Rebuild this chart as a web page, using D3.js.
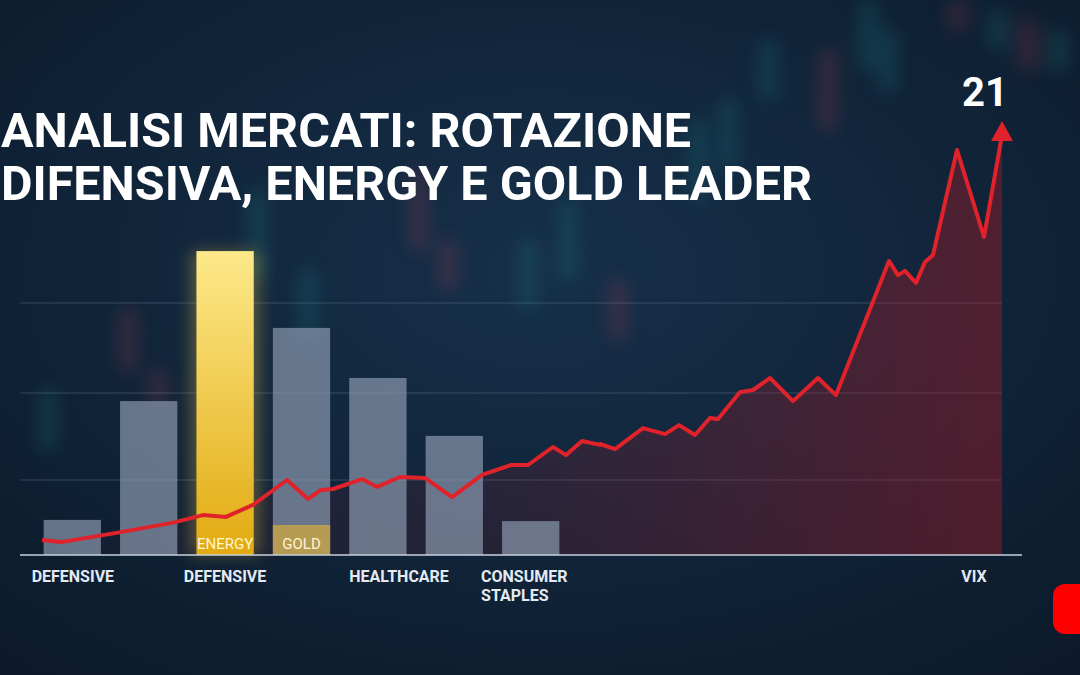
<!DOCTYPE html>
<html><head><meta charset="utf-8">
<script src="https://cdn.jsdelivr.net/npm/d3@7"></script>
<style>
body{margin:0;background:#0e1e31;overflow:hidden}
svg{display:block}
text{font-family:Roboto,"Open Sans",sans-serif}
</style></head>
<body><svg id="chart" width="1080" height="675"></svg>
<script>
// sector bars (value units on the shared y scale)
const barValues = [11.7, 51.3, 101.3, 75.7, 59, 39.7, 11.3];
const barHighlight = [false, false, true, false, false, false, false];
const goldValue = 10;          // small gold segment in bar 4
const gridValues = [25, 54, 84];
const axisLabels = [
  {bar: 0, lines: ["DEFENSIVE"], anchor: "start", dx: -12},
  {bar: 2, lines: ["DEFENSIVE"], anchor: "middle", dx: 0},
  {bar: 4, lines: ["HEALTHCARE"], anchor: "start", dx: 0},
  {bar: 6, lines: ["CONSUMER", "STAPLES"], anchor: "start", dx: -21}
];
// VIX line: t = position along x (0..100), v = value
const vixT = [2.2,4.1,9.5,15.2,18.3,20.6,23.3,26.7,28.8,30.1,31.3,34.2,35.7,38,40.5,43.2,46.2,49.1,50.8,53.3,54.6,56.2,58,
  58,59.5,62.3,64.5,65.9,67.5,69,69.8,72,73.3,75,77.3,79.8,81.6,86.9,87.8,88.5,89.6,90.5,91.3,93.7,96.4,98.2];
const vixV = [5,4.3,7.3,10.7,13.3,12.7,16.7,25,18.7,21.7,22,25.3,22.7,26,25.7,19.3,26.7,30,30,36,33.3,38,36.7,
  37,35.3,42.3,40.3,43.3,40,45.7,45.3,54.3,55,59,51.3,59,53.3,98,93.3,94.7,90.7,97.7,100,135,106,140];
const vixLast = "21";

const svg = d3.select("#chart");
const W = 1080, H = 675;
const x = d3.scaleLinear().domain([0, 100]).range([20, 1020]);
const y = d3.scaleLinear().domain([0, 100]).range([555, 255]);
const xb = d3.scaleBand().domain(d3.range(barValues.length)).range([36, 567]).paddingInner(0.25).paddingOuter(0.1);

const defs = svg.append("defs");
const bg = defs.append("radialGradient").attr("id", "bg").attr("cx", "50%").attr("cy", "40%").attr("r", "75%");
bg.append("stop").attr("offset", "0%").attr("stop-color", "#16304a");
bg.append("stop").attr("offset", "100%").attr("stop-color", "#0c1a2b");
const gy = defs.append("linearGradient").attr("id", "gy").attr("x1", 0).attr("x2", 0).attr("y1", 0).attr("y2", 1);
gy.append("stop").attr("offset", "0%").attr("stop-color", "#fde98a");
gy.append("stop").attr("offset", "100%").attr("stop-color", "#e2aa10");
const ga = defs.append("linearGradient").attr("id", "ga").attr("x1", 0).attr("x2", 1).attr("y1", 0).attr("y2", 0);
ga.append("stop").attr("offset", "0%").attr("stop-color", "#b01a24").attr("stop-opacity", 0.02);
ga.append("stop").attr("offset", "45%").attr("stop-color", "#b01a24").attr("stop-opacity", 0.12);
ga.append("stop").attr("offset", "100%").attr("stop-color", "#b01a24").attr("stop-opacity", 0.4);
defs.append("filter").attr("id", "blur").append("feGaussianBlur").attr("stdDeviation", 9);
const glow = defs.append("filter").attr("id", "glow").attr("x", "-50%").attr("width", "200%");
glow.append("feGaussianBlur").attr("stdDeviation", 8);

svg.append("rect").attr("width", W).attr("height", H).attr("fill", "url(#bg)");

// blurred candlestick backdrop
const candles = [[120,310,60,1],[150,370,40,1],[250,190,90,0],[300,270,70,0],[410,170,80,1],[440,240,50,1],
  [520,240,70,0],[560,200,80,0],[610,280,60,1],[690,120,80,0],[720,100,70,0],[760,40,60,0],[820,50,80,1],
  [860,0,70,0],[880,30,60,0],[950,0,30,1],[990,10,40,0],[1020,20,50,1],[1050,30,40,0],[40,390,60,0]];
svg.append("g").attr("filter", "url(#blur)").attr("opacity", 0.3)
  .selectAll("rect").data(candles).enter().append("rect")
  .attr("x", d => d[0]).attr("y", d => d[1]).attr("width", 16).attr("height", d => d[2]).attr("rx", 4)
  .attr("fill", d => d[3] ? "#a03a50" : "#1f7a80");

// grid
svg.append("g").selectAll("line").data(gridValues).enter().append("line")
  .attr("x1", 20).attr("x2", 1002).attr("y1", d => y(d)).attr("y2", d => y(d))
  .attr("stroke", "#8fa3b8").attr("stroke-opacity", 0.3).attr("stroke-width", 1);

// area under VIX (behind bars)
const pts = vixT.map((t, i) => [t, vixV[i]]);
svg.append("path").datum(pts)
  .attr("d", d3.area().x(d => x(d[0])).y0(y(0)).y1(d => y(d[1]))).attr("fill", "url(#ga)");

// bars
const bars = svg.append("g");
bars.append("rect").attr("x", xb(2) - 6).attr("y", y(barValues[2])).attr("width", xb.bandwidth() + 12)
  .attr("height", y(0) - y(barValues[2])).attr("fill", "#f5c842").attr("opacity", 0.3).attr("filter", "url(#glow)");
bars.selectAll("rect.bar").data(barValues).enter().append("rect").attr("class", "bar")
  .attr("x", (d, i) => xb(i)).attr("y", d => y(d)).attr("width", xb.bandwidth())
  .attr("height", d => y(0) - y(d))
  .attr("fill", (d, i) => barHighlight[i] ? "url(#gy)" : "#8d9cb2")
  .attr("fill-opacity", (d, i) => barHighlight[i] ? 1 : 0.68);
bars.append("rect").attr("x", xb(3)).attr("y", y(goldValue)).attr("width", xb.bandwidth())
  .attr("height", y(0) - y(goldValue)).attr("fill", "#c9a544").attr("fill-opacity", 0.8);
bars.append("text").attr("x", xb(2) + xb.bandwidth() / 2).attr("y", 549).attr("text-anchor", "middle")
  .attr("font-size", 15).attr("fill", "#fff6d0").text("ENERGY");
bars.append("text").attr("x", xb(3) + xb.bandwidth() / 2).attr("y", 549).attr("text-anchor", "middle")
  .attr("font-size", 15).attr("fill", "#fff3d0").text("GOLD");

// VIX line
svg.append("path").datum(pts)
  .attr("d", d3.line().x(d => x(d[0])).y(d => y(d[1])))
  .attr("fill", "none").attr("stroke", "#e0232b").attr("stroke-width", 4).attr("stroke-linejoin", "round");
const last = pts[pts.length - 1];
const ax = x(last[0]), ay = y(last[1]);
svg.append("path").attr("d", `M${ax},${ay - 14} L${ax - 11},${ay + 6} L${ax + 11},${ay + 6} Z`).attr("fill", "#e0232b");
svg.append("text").attr("x", ax - 17).attr("y", 106).attr("text-anchor", "middle")
  .attr("font-size", 40).attr("font-weight", 700).attr("fill", "#fff").text(vixLast);

// baseline + labels
svg.append("line").attr("x1", 20).attr("x2", 1022).attr("y1", y(0)).attr("y2", y(0))
  .attr("stroke", "#c8d2dd").attr("stroke-width", 1.5);
axisLabels.forEach(l => {
  const cx = l.anchor === "middle" ? xb(l.bar) + xb.bandwidth() / 2 : xb(l.bar) + l.dx;
  const t = svg.append("text").attr("x", cx).attr("y", 582).attr("text-anchor", l.anchor)
    .attr("font-size", 16).attr("font-weight", 700).attr("fill", "#e4eaf1");
  l.lines.forEach((s, k) => t.append("tspan").attr("x", cx).attr("dy", k ? 19 : 0).text(s));
});
svg.append("text").attr("x", 974).attr("y", 582).attr("text-anchor", "middle")
  .attr("font-size", 16).attr("font-weight", 700).attr("fill", "#e4eaf1").text("VIX");

// title
const title = svg.append("text").attr("font-size", 48.5).attr("font-weight", 700).attr("fill", "#fff");
title.append("tspan").attr("x", 1).attr("y", 147).text("ANALISI MERCATI: ROTAZIONE");
title.append("tspan").attr("x", 1).attr("y", 200).text("DIFENSIVA, ENERGY E GOLD LEADER");

// red button corner
svg.append("rect").attr("x", 1053).attr("y", 584).attr("width", 60).attr("height", 50).attr("rx", 12).attr("fill", "#f00");
</script></body></html>
